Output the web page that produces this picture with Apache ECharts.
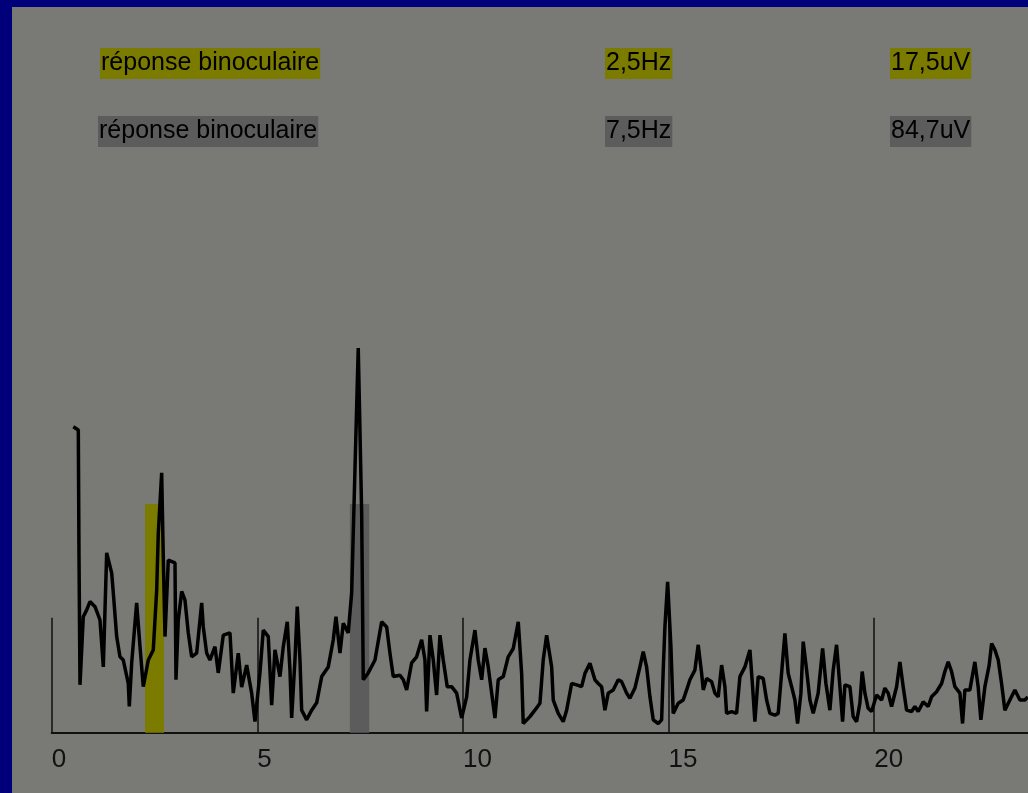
<!DOCTYPE html>
<html><head><meta charset="utf-8">
<script src="https://cdn.jsdelivr.net/npm/echarts@6/dist/echarts.min.js"></script>
<style>
html,body{margin:0;padding:0;background:#00007b;overflow:hidden;width:1028px;height:793px}
#c{position:absolute;left:12px;top:7px;width:1016px;height:786px}
</style></head>
<body><div id="c"></div>
<script>
// Spectrum: [frequency Hz, amplitude uV]
const spectrum = [
[0.525,66.5],[0.647,65.8],[0.664,38.3],[0.688,10.4],[0.768,25.2],[0.851,26.7],[0.931,28.5],[1.053,27.4],[1.174,24.5],[1.255,14.3],
[1.337,39.1],[1.459,34.7],[1.498,30.4],[1.580,20.9],[1.660,16.5],[1.741,15.8],[1.862,10.7],[1.887,5.7],[1.945,15.2],[2.066,28.2],
[2.147,18.7],[2.227,10.0],[2.349,15.8],[2.470,18.0],[2.553,31.0],[2.592,43.4],[2.674,56.5],[2.713,38.3],[2.755,20.9],[2.835,37.5],
[2.998,36.9],[3.022,11.5],[3.078,24.5],[3.161,30.7],[3.241,28.8],[3.321,21.7],[3.403,16.5],[3.525,17.3],[3.647,28.2],[3.686,23.0],
[3.768,17.3],[3.848,15.8],[3.970,18.7],[4.050,13.0],[4.172,21.2],[4.335,21.7],[4.415,8.6],[4.537,17.3],[4.619,9.9],[4.741,14.7],
[4.862,8.6],[4.943,2.4],[5.064,13.0],[5.145,22.3],[5.266,20.9],[5.349,6.0],[5.429,18.0],[5.551,12.2],[5.631,18.7],[5.728,24.1],
[5.794,13.6],[5.835,3.2],[5.915,15.8],[5.971,27.4],[6.037,15.8],[6.078,4.9],[6.200,2.8],[6.321,4.9],[6.443,6.5],[6.565,12.2],
[6.725,14.3],[6.847,20.2],[6.912,25.2],[7.010,17.3],[7.090,23.8],[7.211,21.7],[7.294,30.4],[7.374,57.1],[7.454,83.6],[7.537,47.8],
[7.576,11.5],[7.697,13.0],[7.861,15.8],[8.023,24.1],[8.145,23.0],[8.225,17.3],[8.305,12.2],[8.468,12.5],[8.549,11.5],[8.631,9.3],
[8.753,15.2],[8.874,16.5],[8.996,20.2],[9.076,15.8],[9.117,4.6],[9.198,21.2],[9.278,15.8],[9.360,8.2],[9.441,21.2],[9.521,15.8],
[9.618,10.0],[9.725,10.0],[9.847,8.6],[9.968,3.2],[10.090,7.8],[10.170,15.8],[10.292,22.3],[10.372,15.8],[10.455,11.5],[10.535,18.4],
[10.615,14.3],[10.778,3.2],[10.858,11.5],[10.980,12.2],[11.101,16.5],[11.223,18.3],[11.345,24.1],[11.427,12.9],[11.466,2.0],[11.629,3.5],
[11.750,4.9],[11.872,6.4],[11.952,15.8],[12.035,21.2],[12.157,14.3],[12.196,7.1],[12.317,4.2],[12.438,2.4],[12.521,4.9],[12.643,10.7],
[12.765,10.4],[12.886,10.0],[12.967,12.9],[13.088,15.1],[13.209,11.5],[13.290,10.7],[13.372,10.0],[13.452,4.9],[13.533,8.6],[13.654,9.3],
[13.776,11.5],[13.858,11.1],[13.980,8.6],[14.060,7.5],[14.182,9.7],[14.303,14.3],[14.384,17.6],[14.466,14.3],[14.547,7.8],[14.627,2.8],
[14.748,2.0],[14.831,2.8],[14.870,13.6],[14.911,23.0],[14.977,32.8],[15.057,18.7],[15.113,4.2],[15.235,6.4],[15.356,7.1],[15.439,9.3],
[15.519,11.5],[15.640,13.6],[15.721,19.1],[15.804,12.9],[15.843,9.3],[15.925,11.8],[16.047,11.1],[16.127,8.6],[16.207,7.8],[16.290,14.7],
[16.370,10.0],[16.411,4.2],[16.533,4.6],[16.654,4.2],[16.735,12.2],[16.856,14.3],[16.978,18.0],[17.043,10.0],[17.099,2.4],[17.180,12.2],
[17.301,11.8],[17.384,7.1],[17.464,4.2],[17.585,3.8],[17.666,4.2],[17.748,12.9],[17.829,21.6],[17.909,12.9],[17.992,10.0],[18.072,7.1],
[18.137,2.0],[18.218,8.6],[18.274,19.8],[18.357,13.6],[18.437,7.1],[18.517,4.2],[18.638,8.6],[18.746,18.3],[18.826,10.7],[18.923,4.9],
[19.003,13.6],[19.085,19.1],[19.166,10.0],[19.232,2.4],[19.288,10.4],[19.409,10.0],[19.489,3.5],[19.572,2.4],[19.652,6.4],[19.708,13.3],
[19.774,8.6],[19.854,5.3],[19.937,4.6],[20.058,8.2],[20.180,7.1],[20.260,9.7],[20.340,8.6],[20.423,5.7],[20.545,10.0],[20.625,15.4],
[20.705,10.0],[20.788,4.9],[20.909,4.6],[20.990,5.7],[21.070,4.6],[21.192,6.7],[21.313,5.7],[21.395,7.8],[21.517,8.9],[21.639,10.7],
[21.719,13.3],[21.799,15.4],[21.882,13.3],[21.962,10.0],[22.084,8.6],[22.149,2.0],[22.205,9.3],[22.327,9.3],[22.448,15.4],[22.528,10.0],
[22.594,2.8],[22.692,10.0],[22.796,14.7],[22.855,19.4],[22.935,18.0],[23.016,15.8],[23.097,10.7],[23.178,4.9],[23.299,7.1],[23.421,9.3],
[23.543,7.1],[23.664,7.1],[23.737,7.8]
];
// Highlighted frequency bands (Hz) and their level (uV)
const bandLow = [2.27, 7.25];
const bandHigh = [2.73, 7.72];
const bandLevel = [49.7, 49.7];
// Legend rows
const legendLabels = ['réponse binoculaire', 'réponse binoculaire'];
const legendFreqs = ['2,5Hz', '7,5Hz'];
const legendAmps = ['17,5uV', '84,7uV'];
// X tick values
const tickValues = [0, 5, 10, 15, 20];

const rowColors = ['#7b7b00', '#5c5c5c'];
const FONT = '"Liberation Sans", Arial, sans-serif';

const bandData = bandLow.map((lo, i) => [lo, bandHigh[i], bandLevel[i]]);

const graphic = [];
legendLabels.forEach((lab, i) => {
  const top = 41 + i * 68;
  const mk = (txt, left) => ({
    type: 'text', left: left, top: top,
    style: { text: txt, font: '25px ' + FONT, fill: '#000',
             backgroundColor: rowColors[i], padding: [3, 1, 3, 1] }
  });
  graphic.push(mk(lab, 88 - i * 2));
  graphic.push(mk(legendFreqs[i], 593));
  graphic.push(mk(legendAmps[i], 878));
});

const chart = echarts.init(document.getElementById('c'));
chart.setOption({
  backgroundColor: '#797a75',
  animation: false,
  grid: { left: 39.7, right: 0, top: 311.7, bottom: 60.3 },
  xAxis: {
    type: 'value', min: 0, max: 23.74,
    axisLine: { show: true, lineStyle: { color: '#111', width: 2 } },
    axisTick: { show: true, inside: true, length: 115, customValues: tickValues,
                lineStyle: { color: '#111', width: 1.5 } },
    axisLabel: { customValues: tickValues, align: 'left', margin: 14,
                 fontSize: 26, fontFamily: FONT, color: '#111' },
    splitLine: { show: false }
  },
  yAxis: { type: 'value', min: 0, max: 90, show: false },
  graphic: graphic,
  series: [
    {
      type: 'custom', z: 1, data: bandData,
      encode: { x: [0, 1], y: 2 },
      renderItem: function (params, api) {
        const p1 = api.coord([api.value(0), api.value(2)]);
        const p2 = api.coord([api.value(1), 0]);
        return { type: 'rect',
          shape: { x: p1[0], y: p1[1], width: p2[0] - p1[0], height: p2[1] - p1[1] },
          style: { fill: rowColors[params.dataIndex] } };
      }
    },
    {
      type: 'line', z: 3, data: spectrum, showSymbol: false, symbol: 'none',
      lineStyle: { color: '#000', width: 3.5, join: 'bevel' }
    }
  ]
});
</script></body></html>
